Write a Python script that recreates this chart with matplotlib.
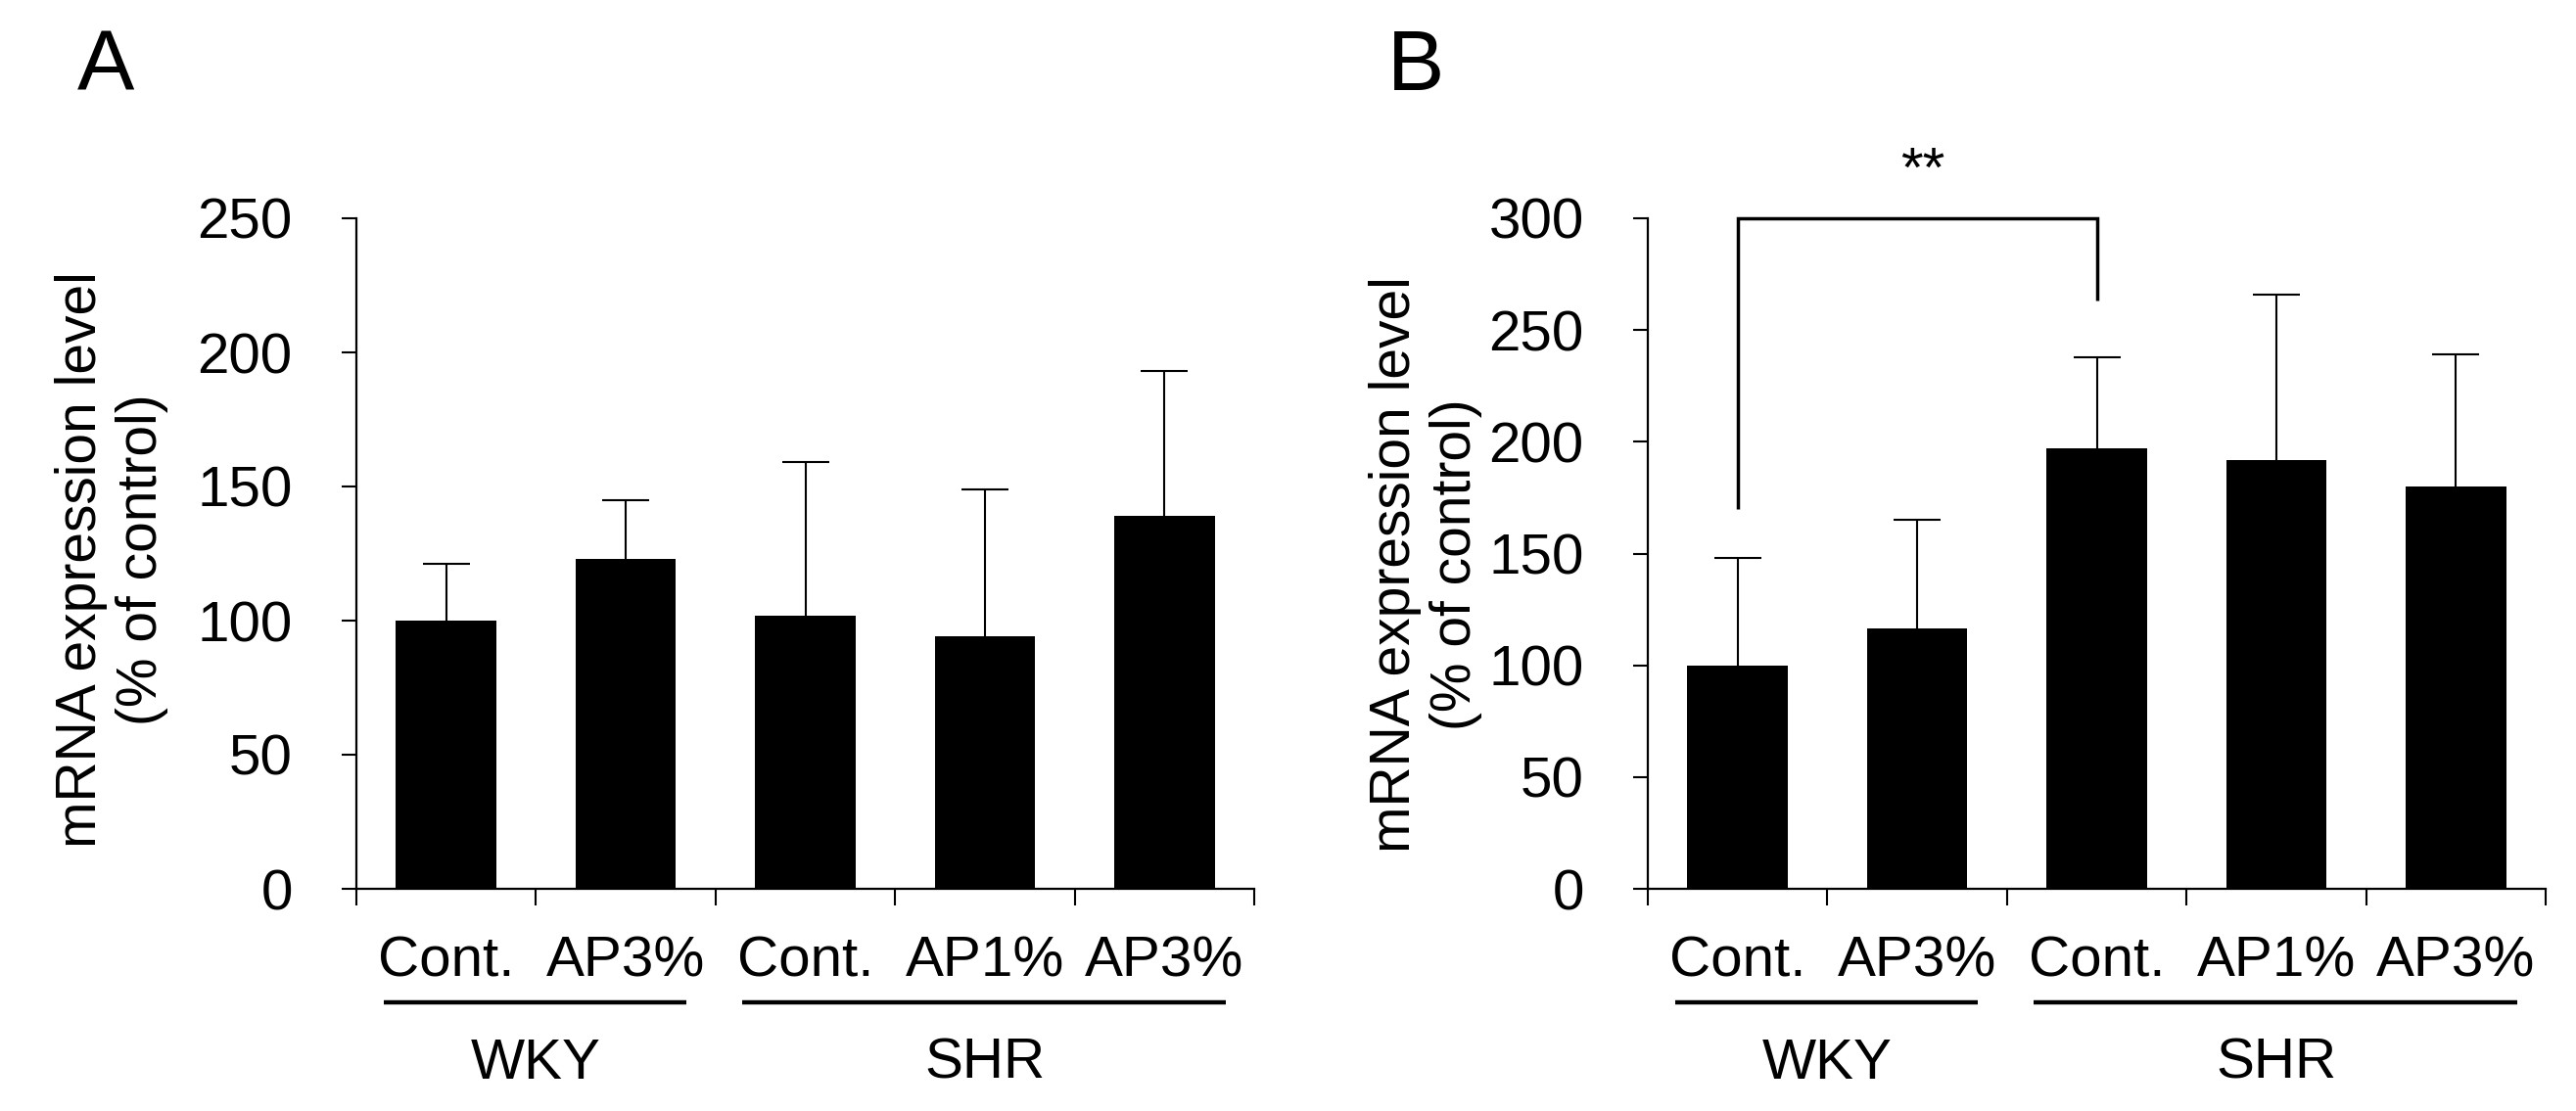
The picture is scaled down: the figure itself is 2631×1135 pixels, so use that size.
import matplotlib
matplotlib.use('Agg')
import matplotlib.pyplot as plt
import numpy as np

plt.rcParams['font.family'] = ['Liberation Sans', 'DejaVu Sans']

# ---------------- data ----------------
categories = ['Cont.', 'AP3%', 'Cont.', 'AP1%', 'AP3%']
group_names = ['WKY', 'SHR']
group_members = [[0, 1], [2, 3, 4]]

means_a = [100, 123, 102, 94, 139]
err_a = [21, 22, 57, 55, 54]
yticks_a = [0, 50, 100, 150, 200, 250]

means_b = [100, 116.5, 197, 192, 180]
err_b = [48, 48.5, 41, 74, 59]
yticks_b = [0, 50, 100, 150, 200, 250, 300]

sig_from, sig_to = 0, 2
sig_top = 300
sig_from_bottom = 170
sig_to_bottom = 263
sig_label = '**'
sig_label_y = 314
sig_label_x = 1.03

panel_labels = ['A', 'B']
ylabel_text = 'mRNA expression level\n(% of control)'

# ---------------- layout ----------------
W, H = 2631, 1135
fig = plt.figure(figsize=(W / 100, H / 100), dpi=100)


def px_rect(left, top, right, bottom):
    return [left / W, 1 - bottom / H, (right - left) / W, (bottom - top) / H]


axA = fig.add_axes(px_rect(364, 223, 1281, 908))
axB = fig.add_axes(px_rect(1683, 223, 2600, 908))

FS = 42


def draw(ax, means, errs, yticks):
    x = np.arange(len(means))
    ax.bar(x, means, width=0.56, color='black', edgecolor='black',
           linewidth=0, zorder=3)
    lower = np.zeros(len(errs))
    eb = ax.errorbar(x, means, yerr=[lower, errs], fmt='none', ecolor='black',
                     elinewidth=1.5, capsize=17, capthick=1.5, zorder=2)
    # only the upper cap is shown
    if len(eb[1]) >= 2:
        eb[1][0].set_visible(False)
    ax.set_xlim(-0.5, len(means) - 0.5)
    ax.set_ylim(0, yticks[-1])
    ax.set_yticks(yticks)
    ax.set_xticks(np.arange(len(means) + 1) - 0.5)
    ax.set_xticklabels([])
    for s in ['top', 'right']:
        ax.spines[s].set_visible(False)
    for s in ['left', 'bottom']:
        ax.spines[s].set_linewidth(1.6)
    ax.tick_params(axis='y', direction='out', length=11, width=1.5,
                   labelsize=FS, pad=36)
    ax.tick_params(axis='x', direction='out', length=12, width=1.5)
    trans = ax.get_xaxis_transform()
    for xi, lab in enumerate(categories):
        ax.text(xi, -0.130, lab, transform=trans, ha='center',
                va='baseline', fontsize=FS)
    for name, idx in zip(group_names, group_members):
        x0 = idx[0] - 0.35
        x1 = idx[-1] + 0.34
        ax.plot([x0, x1], [-0.169, -0.169], transform=trans, color='black',
                lw=3.2, clip_on=False, solid_capstyle='butt')
        ax.text(np.mean(idx), -0.283, name, transform=trans, ha='center',
                va='baseline', fontsize=FS)


draw(axA, means_a, err_a, yticks_a)
draw(axB, means_b, err_b, yticks_b)

# significance bracket on panel B
axB.plot([sig_from, sig_from, sig_to, sig_to],
         [sig_from_bottom, sig_top, sig_top, sig_to_bottom],
         color='black', lw=2.5, clip_on=False, solid_joinstyle='miter',
         solid_capstyle='butt', zorder=4)
axB.text(sig_label_x, sig_label_y, sig_label, ha='center', va='baseline',
         fontsize=FS, clip_on=False)

# y labels
fig.text(114 / W, 1 - 572 / H, ylabel_text, rotation=90, ha='center',
         va='center', fontsize=41, multialignment='center')
fig.text(1456 / W, 1 - 577 / H, ylabel_text, rotation=90, ha='center',
         va='center', fontsize=41, multialignment='center')

# panel labels
fig.text(79 / W, 1 - 92 / H, panel_labels[0], ha='left', va='baseline',
         fontsize=63)
fig.text(1417 / W, 1 - 92 / H, panel_labels[1], ha='left', va='baseline',
         fontsize=63)

fig.savefig('out.png', dpi=100, facecolor='white')
